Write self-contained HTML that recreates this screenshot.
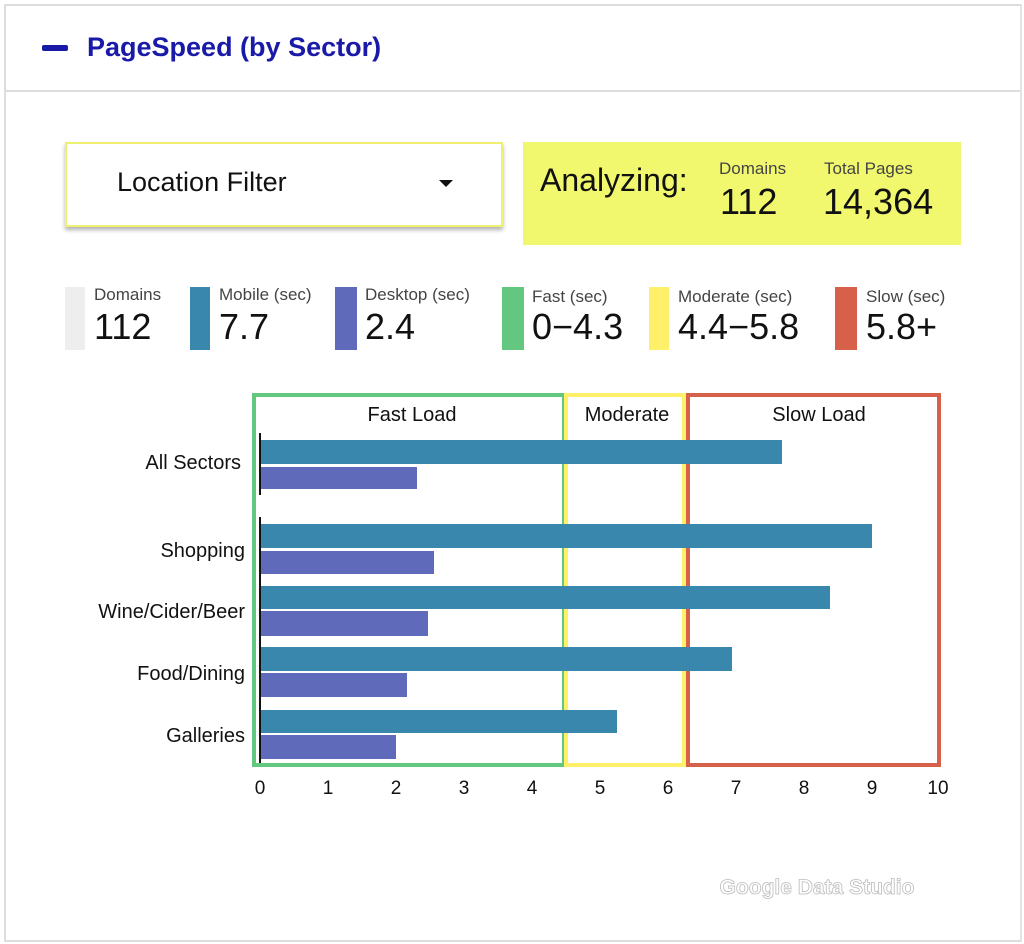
<!DOCTYPE html>
<html><head><meta charset="utf-8"><style>
body{margin:0;width:1024px;height:944px;background:#fff;font-family:"Liberation Sans",sans-serif;position:relative;overflow:hidden}
.a{position:absolute}
</style></head><body>
<div class="a" style="left:4px;top:4px;width:1014px;height:934px;border:2px solid #ddd;border-right-color:#e4e4e4"></div>
<div class="a" style="left:4px;top:90px;width:1016px;height:2px;background:#ddd"></div>
<div class="a" style="left:42px;top:45px;width:26px;height:6px;background:#1a1aa8;border-radius:2px"></div>
<div class="a" style="left:87px;top:32px;font-size:27px;font-weight:bold;color:#1a1aa8">PageSpeed (by Sector)</div>
<div class="a" style="left:65px;top:142px;width:434px;height:81px;border:2px solid #f0f070;box-shadow:0 3px 4px rgba(0,0,0,.3);background:#fff"></div>
<div class="a" style="left:117px;top:167px;font-size:27px;color:#111">Location Filter</div>
<div class="a" style="left:439px;top:180px;width:0;height:0;border-left:7px solid transparent;border-right:7px solid transparent;border-top:7px solid #111"></div>
<div class="a" style="left:523px;top:142px;width:438px;height:103px;background:#f2f86e"></div>
<div class="a" style="left:540px;top:162px;font-size:32px;color:#111">Analyzing:</div>
<div class="a" style="left:719px;top:159px;font-size:17px;color:#444">Domains</div>
<div class="a" style="left:720px;top:181px;font-size:36px;color:#111">112</div>
<div class="a" style="left:824px;top:159px;font-size:17px;color:#444">Total Pages</div>
<div class="a" style="left:823px;top:181px;font-size:36px;color:#111">14,364</div>

<div class="a" style="left:65px;top:287px;width:20px;height:63px;background:#eee"></div>
<div class="a" style="left:94px;top:285px;font-size:17px;color:#444">Domains</div>
<div class="a" style="left:94px;top:306px;font-size:36px;color:#111">112</div>
<div class="a" style="left:190px;top:287px;width:20px;height:63px;background:#3a87ad"></div>
<div class="a" style="left:219px;top:285px;font-size:17px;color:#444">Mobile (sec)</div>
<div class="a" style="left:219px;top:306px;font-size:36px;color:#111">7.7</div>
<div class="a" style="left:335px;top:287px;width:22px;height:63px;background:#5f6bba"></div>
<div class="a" style="left:365px;top:285px;font-size:17px;color:#444">Desktop (sec)</div>
<div class="a" style="left:365px;top:306px;font-size:36px;color:#111">2.4</div>
<div class="a" style="left:502px;top:287px;width:22px;height:63px;background:#63c77f"></div>
<div class="a" style="left:532px;top:287px;font-size:17px;color:#444">Fast (sec)</div>
<div class="a" style="left:532px;top:306px;font-size:36px;color:#111">0−4.3</div>
<div class="a" style="left:649px;top:287px;width:20px;height:63px;background:#fff06a"></div>
<div class="a" style="left:678px;top:287px;font-size:17px;color:#444">Moderate (sec)</div>
<div class="a" style="left:678px;top:306px;font-size:36px;color:#111">4.4−5.8</div>
<div class="a" style="left:835px;top:287px;width:22px;height:63px;background:#d6604a"></div>
<div class="a" style="left:866px;top:287px;font-size:17px;color:#444">Slow (sec)</div>
<div class="a" style="left:866px;top:306px;font-size:36px;color:#111">5.8+</div>

<svg class="a" style="left:0;top:0" width="1024" height="944" font-family="Liberation Sans, sans-serif">
<rect x="254" y="395" width="310" height="370" fill="none" stroke="#63c77f" stroke-width="4"/>
<rect x="566" y="395" width="118" height="370" fill="none" stroke="#fff06a" stroke-width="4"/>
<rect x="688" y="395" width="251" height="370" fill="none" stroke="#d6604a" stroke-width="4"/>
<g font-size="20" fill="#111" text-anchor="middle">
<text x="412" y="421">Fast Load</text><text x="627" y="421">Moderate</text><text x="819" y="421">Slow Load</text>
</g>
<g fill="#3a87ad">
<rect x="260" y="440" width="522" height="24"/><rect x="260" y="524" width="612" height="24"/>
<rect x="260" y="586" width="570" height="23"/><rect x="260" y="647" width="472" height="24"/>
<rect x="260" y="710" width="357" height="23"/></g>
<g fill="#5f6bba">
<rect x="260" y="467" width="157" height="22"/><rect x="260" y="551" width="174" height="23"/>
<rect x="260" y="611" width="168" height="25"/><rect x="260" y="673" width="147" height="24"/>
<rect x="260" y="735" width="136" height="24"/></g>
<rect x="259" y="433" width="2" height="62" fill="#111"/><rect x="259" y="517" width="2" height="246" fill="#111"/>
<g font-size="20" fill="#111" text-anchor="end">
<text x="241" y="469">All Sectors</text><text x="245" y="557">Shopping</text><text x="245" y="618">Wine/Cider/Beer</text>
<text x="245" y="680">Food/Dining</text><text x="245" y="742">Galleries</text></g>
<g font-size="19" fill="#111" text-anchor="middle">
<text x="260" y="794">0</text><text x="328" y="794">1</text><text x="396" y="794">2</text><text x="464" y="794">3</text><text x="532" y="794">4</text><text x="600" y="794">5</text><text x="668" y="794">6</text><text x="736" y="794">7</text><text x="804" y="794">8</text><text x="872" y="794">9</text><text x="938" y="794">10</text></g>
<text x="817" y="894" font-size="21" font-weight="bold" fill="#fff" stroke="#bbb" stroke-width="0.8" text-anchor="middle">Google Data Studio</text>
</svg>
</body></html>
